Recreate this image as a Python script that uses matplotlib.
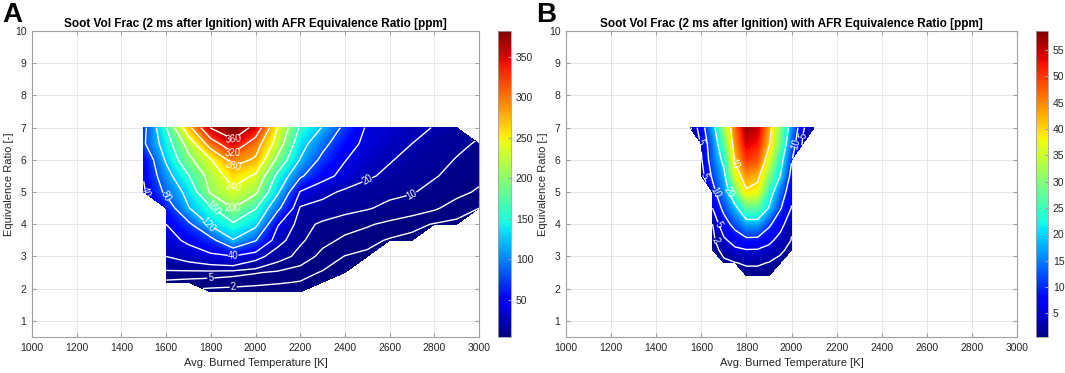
import numpy as np
import matplotlib
matplotlib.use("Agg")
import matplotlib.pyplot as plt
from matplotlib.colors import Normalize
from matplotlib.cm import ScalarMappable

plt.rcParams['font.family'] = ['Liberation Sans', 'DejaVu Sans']

nan = np.nan

# panel A: soot (ppm) on temperature x equivalence ratio grid
temp_a = [1500, 1600, 1700, 1800, 1900, 2000, 2100, 2200, 2300, 2400,
          2500, 2600, 2700, 2800, 2900, 3000]
phi_a = [1.9, 2.2, 2.5, 3.0, 3.5, 4.0, 4.5, 5.0, 5.5, 6.0, 6.5, 7.0]
soot_a = [
    [nan, nan, nan, 1.2, 1.2, 1.1, 1.0, 0.9, nan, nan, nan, nan, nan, nan, nan, nan],
    [nan, 4.0, 3.5, 3.2, 2.8, 2.5, 2.2, 1.9, 1.5, nan, nan, nan, nan, nan, nan, nan],
    [nan, 8.5, 8.0, 7.5, 6.5, 5.3, 4.2, 2.8, 1.8, 1.2, nan, nan, nan, nan, nan, nan],
    [nan, 20, 26, 33, 38, 25, 13, 8, 3.5, 1.9, 1.4, nan, nan, nan, nan, nan],
    [nan, 30, 45, 68, 118, 82, 25, 11, 6.5, 4, 2.8, 1.7, 1.2, nan, nan, nan],
    [nan, 40, 72, 126, 155, 130, 42, 12, 9, 7, 5.5, 4, 2.8, 1.8, 1.3, nan],
    [nan, 55, 118, 155, 200, 162, 88, 18, 14, 12, 10.5, 8.5, 7, 5.5, 3.5, 2.0],
    [36, 88, 132, 205, 232, 207, 125, 38, 25, 17, 14, 11.5, 10.5, 8, 6, 4.5],
    [42, 105, 158, 215, 258, 235, 150, 86, 48, 33, 22, 17, 14, 10.5, 8, 6],
    [45, 125, 190, 238, 295, 275, 190, 118, 70, 41, 27, 21, 16, 13, 9.5, 7.5],
    [75, 140, 215, 300, 350, 300, 222, 135, 92, 52, 33, 26, 20, 15, 12, 9],
    [70, 158, 268, 362, 385, 350, 240, 155, 118, 70, 36, 29, 23, 19.5, 15, nan],
]
levels_a = [2, 5, 10, 20, 40, 80, 120, 160, 200, 240, 280, 320, 360]
clim_a = (4, 382)
cticks_a = [50, 100, 150, 200, 250, 300, 350]

# panel B
temp_b = [1550, 1600, 1650, 1700, 1750, 1800, 1850, 1900, 1950, 2000, 2050, 2100, 2150]
phi_b = [2.4, 2.8, 3.2, 3.5, 4.0, 4.5, 5.0, 5.5, 6.0, 6.5, 7.0]
soot_b = [
    [nan, nan, nan, nan, nan, 1.1, 1.1, 0.9, nan, nan, nan, nan, nan],
    [nan, nan, nan, 1.5, 1.9, 2.3, 2.3, 1.9, 1.4, nan, nan, nan, nan],
    [nan, nan, 1.0, 2.8, 4.3, 4.8, 4.7, 3.8, 2.4, 1.4, nan, nan, nan],
    [nan, nan, 1.3, 4.3, 6.5, 8.5, 8.3, 6.0, 3.6, 1.9, nan, nan, nan],
    [nan, nan, 2.0, 7.5, 12, 17, 17, 11, 6.5, 2.3, nan, nan, nan],
    [nan, nan, 5, 11.5, 18, 27, 27, 19.5, 10.5, 4.8, nan, nan, nan],
    [nan, nan, 8, 15, 27, 39, 37, 24, 14, 6, nan, nan, nan],
    [nan, 3, 11, 18, 36, 44, 42, 30, 20, 8, nan, nan, nan],
    [nan, 4.5, 13, 22, 41, 50, 48, 36, 23, 10.5, nan, nan, nan],
    [nan, 5.5, 14, 27, 44, 54, 52, 41, 28, 13, 4.5, nan, nan],
    [1.5, 7, 17, 31, 46, 57, 55, 43, 30, 16, 5.5, 2.2, nan],
]
levels_b = [2, 5, 10, 20, 40]
clim_b = (0.5, 58.6)
cticks_b = [5, 10, 15, 20, 25, 30, 35, 40, 45, 50, 55]

title = "Soot Vol Frac (2 ms after Ignition) with AFR Equivalence Ratio [ppm]"
xticks = list(range(1000, 3001, 200))
yticks = list(range(1, 11))

TXT = '#262626'
EDGE = '#a0a0a0'


def panel(ax, cax, T, P, Z, levels, clim, cticks, letter):
    Z = np.ma.masked_invalid(np.array(Z, dtype=float))
    norm = Normalize(*clim)
    fill = np.linspace(clim[0], clim[1], 150)
    ax.contourf(T, P, Z, levels=fill, cmap='jet', norm=norm, extend='both',
                zorder=2)
    cs = ax.contour(T, P, Z, levels=levels, colors='white', linewidths=1.0,
                    zorder=3)
    ax.clabel(cs, fmt='%d', fontsize=7, colors='white', inline=True,
              inline_spacing=2)

    ax.set_xlim(1000, 3000)
    ax.set_ylim(0.5, 10)
    ax.set_xticks(xticks)
    ax.set_yticks(yticks)
    ax.grid(True, color='#e6e6e6', lw=0.7, zorder=0)
    ax.set_axisbelow(True)
    ax.tick_params(direction='in', top=True, right=True, length=3,
                   color=EDGE, labelcolor=TXT, labelsize=7.5, pad=4)
    for s in ax.spines.values():
        s.set_color(EDGE)
        s.set_linewidth(0.8)
    ax.set_xlabel("Avg. Burned Temperature [K]", fontsize=8, color=TXT,
                  labelpad=4)
    ax.set_ylabel("Equivalence Ratio [-]", fontsize=8, color=TXT)
    ax.yaxis.set_label_coords(-0.041, 0.5)
    ax.set_title(title, fontsize=8.5, fontweight='bold', color='black', pad=3)

    sm = ScalarMappable(norm=norm, cmap='jet')
    cb = plt.colorbar(sm, cax=cax, ticks=cticks)
    cb.ax.tick_params(labelsize=7.5, labelcolor=TXT, color=EDGE, length=2,
                      direction='in')
    cb.outline.set_edgecolor(EDGE)
    cb.outline.set_linewidth(0.6)

    fig = ax.figure
    pos = ax.get_position()
    fig.text(pos.x0 - 0.028, 0.995, letter, fontsize=20, fontweight='bold',
             ha='left', va='top')


fig = plt.figure(figsize=(10.65, 3.73), dpi=100)
W, H = 1065, 373
axA = fig.add_axes([32 / W, 36 / H, 447 / W, 306 / H])
caxA = fig.add_axes([498 / W, 36 / H, 13 / W, 306 / H])
axB = fig.add_axes([566 / W, 36 / H, 451 / W, 306 / H])
caxB = fig.add_axes([1036 / W, 36 / H, 12 / W, 306 / H])

panel(axA, caxA, temp_a, phi_a, soot_a, levels_a, clim_a, cticks_a, 'A')
panel(axB, caxB, temp_b, phi_b, soot_b, levels_b, clim_b, cticks_b, 'B')

fig.savefig('out.png', dpi=100)
